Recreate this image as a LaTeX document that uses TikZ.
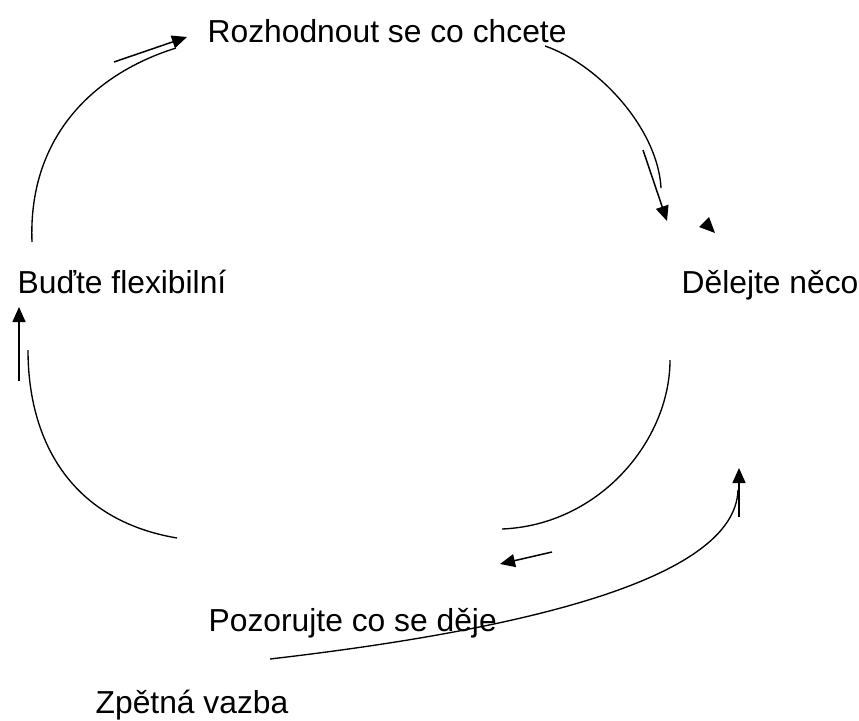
\documentclass[tikz,border=0pt]{standalone}
\usepackage{fontspec}
\setmainfont{Liberation Sans}
\usetikzlibrary{arrows.meta}
\begin{document}
\begin{tikzpicture}[x=1pt,y=-1pt,
  line width=1.3pt,
  lbl/.style={anchor=base west,inner sep=0pt,font=\fontsize{31.8}{36}\selectfont},
  arc/.style={draw=black,line width=1.35pt},
  arr/.style={draw=black,line width=1.5pt,-{Triangle[length=15pt,width=13pt]}}]
\useasboundingbox (0,0) rectangle (859,720);
% labels
\node[lbl] (top) at (207,42) {Rozhodnout se co chcete};
\node[lbl] (left) at (17,293) {Buďte flexibilní};
\node[lbl] (right) at (681,293) {Dělejte něco};
\node[lbl] (bot) at (208,631) {Pozorujte co se děje};
\node[lbl] (fb) at (95,713) {Zpětná vazba};
% coordinates
\coordinate (a1s) at (32,242);
\coordinate (a1e) at (176,48);
\coordinate (a2s) at (545,46);
\coordinate (a2e) at (661,188);
\coordinate (a3s) at (670,360);
\coordinate (a3e) at (502,529);
\coordinate (a4s) at (28,350);
\coordinate (a4e) at (177,538);
\coordinate (f1s) at (270,659);
\coordinate (f1e) at (738,490);
% arcs
\draw[arc] (a1s) .. controls (28,140) and (90,75) .. (a1e);
\draw[arc] (a2s) .. controls (600,65) and (658,130) .. (a2e);
\draw[arc] (a3s) .. controls (670,440) and (600,525) .. (a3e);
\draw[arc] (a4s) .. controls (28,440) and (70,520) .. (a4e);
\draw[arc] (f1s) .. controls (520,630) and (735,580) .. (f1e);
% arrows
\coordinate (p1s) at (114,62);  \coordinate (p1e) at (187,37);
\coordinate (p2s) at (643,150); \coordinate (p2e) at (667,221);
\coordinate (p3s) at (19,381);  \coordinate (p3e) at (19,307);
\coordinate (p4s) at (552,552); \coordinate (p4e) at (500,564);
\coordinate (p5s) at (739,517); \coordinate (p5e) at (739,468);
\draw[arr] (p1s) -- (p1e);
\draw[arr] (p2s) -- (p2e);
\draw[arr] (p3s) -- (p3e);
\draw[arr] (p4s) -- (p4e);
\draw[arr] (p5s) -- (p5e);
% isolated arrowhead
\fill[black] (699,227) -- (709,217) -- (715,233) -- cycle;
\end{tikzpicture}
\end{document}
